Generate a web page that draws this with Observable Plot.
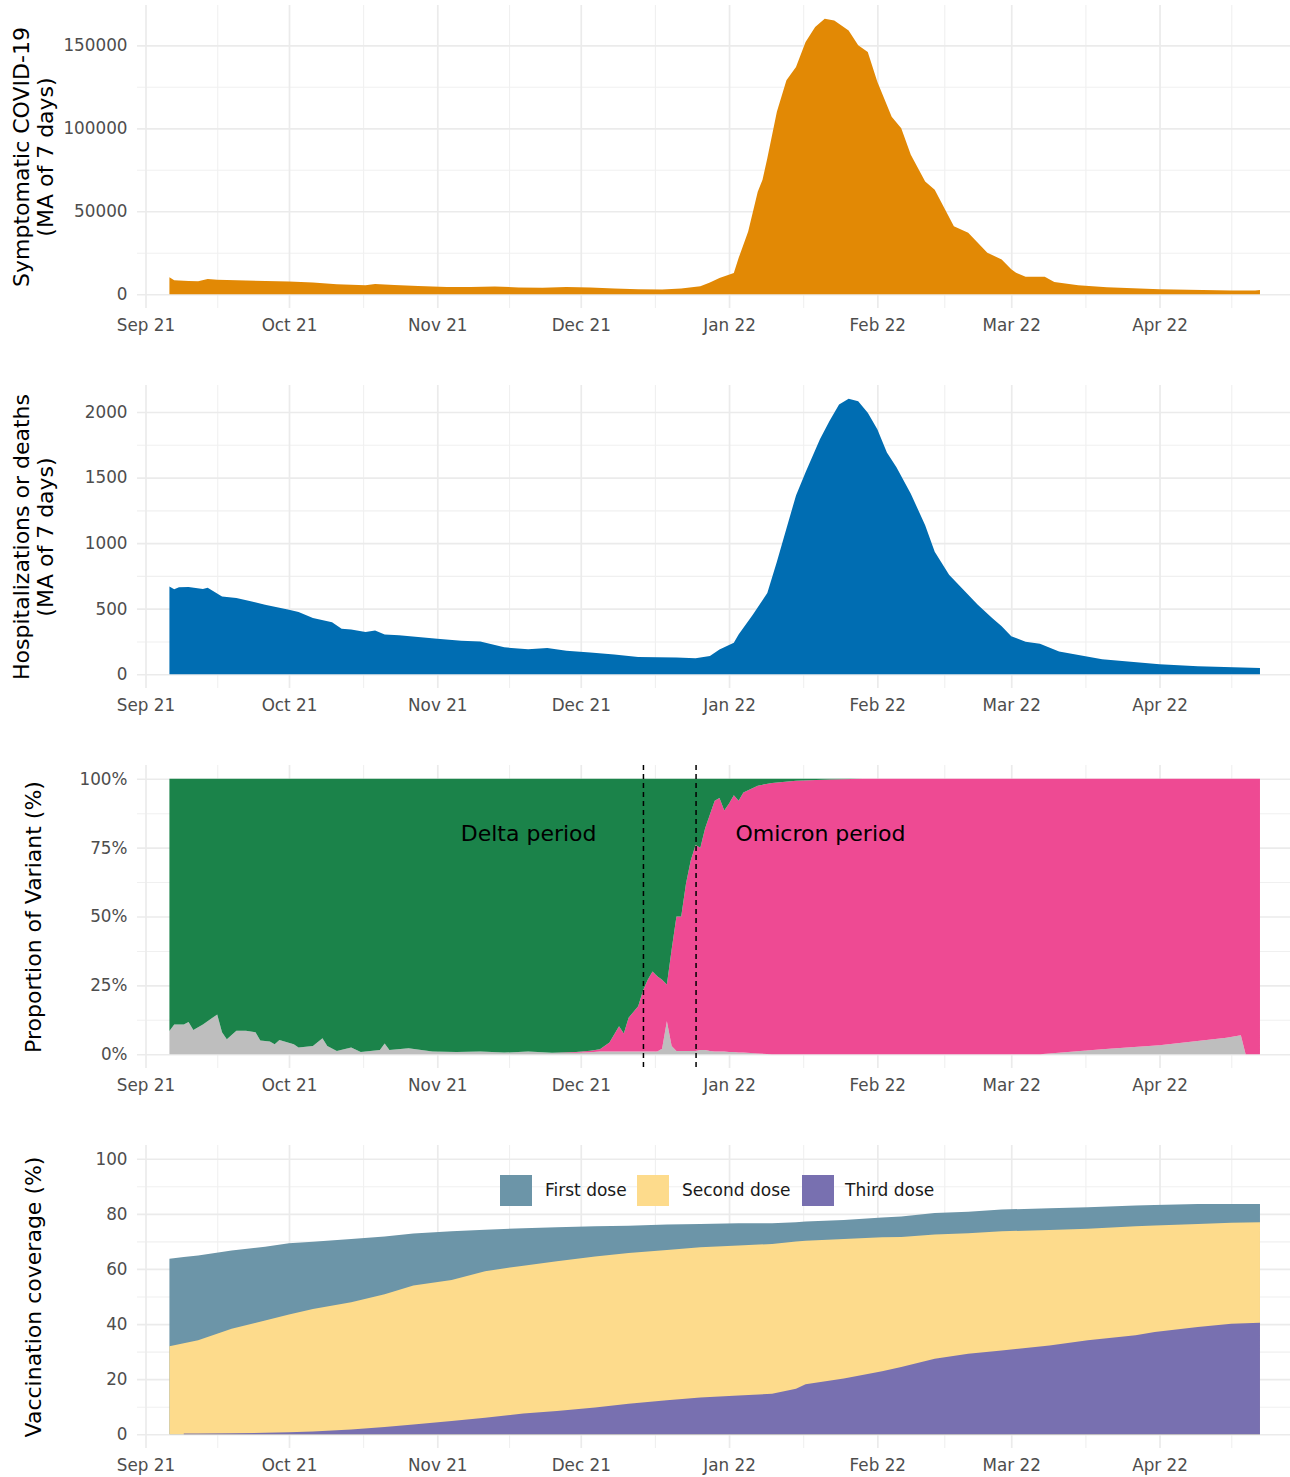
<!DOCTYPE html>
<html><head><meta charset="utf-8">
<script src="https://cdn.jsdelivr.net/npm/d3@7"></script>
<script src="https://cdn.jsdelivr.net/npm/@observablehq/plot@0.6"></script>
<style>
html,body{margin:0;padding:0;background:#fff;overflow:hidden}
#root{position:relative;width:1290px;height:1477px;font-family:"DejaVu Sans",sans-serif}
.panel{position:absolute;left:0}
.legend-sw{position:absolute;width:32px;height:31px}
.legend-tx{position:absolute;font-size:17px;line-height:31px;color:#1a1a1a;white-space:nowrap}
</style></head><body><div id="root"></div>
<script>
// ---------- DATA ----------
const monthTicks = ["2021-09-01","2021-10-01","2021-11-01","2021-12-01","2022-01-01","2022-02-01","2022-03-01","2022-04-01","2022-05-01"];

const casesDates = ["2021-09-06","2021-09-07","2021-09-10","2021-09-12","2021-09-14","2021-09-16","2021-09-22","2021-10-01","2021-10-06","2021-10-11","2021-10-17","2021-10-19","2021-10-23","2021-10-28","2021-11-03","2021-11-08","2021-11-13","2021-11-18","2021-11-23","2021-11-28","2021-12-03","2021-12-08","2021-12-13","2021-12-18","2021-12-22","2021-12-26","2021-12-28","2021-12-30","2022-01-02","2022-01-03","2022-01-05","2022-01-07","2022-01-08","2022-01-09","2022-01-11","2022-01-13","2022-01-15","2022-01-17","2022-01-19","2022-01-21","2022-01-23","2022-01-26","2022-01-28","2022-01-30","2022-02-01","2022-02-04","2022-02-06","2022-02-08","2022-02-11","2022-02-13","2022-02-15","2022-02-17","2022-02-20","2022-02-24","2022-02-27","2022-03-01","2022-03-02","2022-03-04","2022-03-08","2022-03-10","2022-03-15","2022-03-21","2022-04-01","2022-04-16","2022-04-21","2022-04-22"];
const casesValues = [10200,8400,8000,7800,9200,8800,8300,7600,7000,6000,5400,6200,5600,5000,4400,4300,4700,4100,3900,4300,4000,3500,3000,2900,3400,4800,7000,9800,12800,21800,37800,61800,69000,82000,110000,129000,137000,152000,161000,166000,165000,159000,150000,146000,128000,107000,100000,84000,68000,63000,52000,41000,37000,25000,21000,15000,13000,10600,10600,7400,5400,4200,3000,2200,2200,2600];

const hospDates = ["2021-09-06","2021-09-07","2021-09-08","2021-09-10","2021-09-13","2021-09-14","2021-09-17","2021-09-20","2021-09-23","2021-09-26","2021-10-01","2021-10-03","2021-10-06","2021-10-10","2021-10-12","2021-10-14","2021-10-17","2021-10-19","2021-10-21","2021-10-24","2021-11-01","2021-11-06","2021-11-10","2021-11-15","2021-11-20","2021-11-24","2021-11-28","2021-12-03","2021-12-08","2021-12-13","2021-12-21","2021-12-25","2021-12-28","2021-12-30","2022-01-02","2022-01-03","2022-01-06","2022-01-09","2022-01-11","2022-01-13","2022-01-15","2022-01-17","2022-01-20","2022-01-22","2022-01-24","2022-01-26","2022-01-28","2022-01-30","2022-02-01","2022-02-03","2022-02-05","2022-02-08","2022-02-11","2022-02-13","2022-02-16","2022-02-19","2022-02-22","2022-02-25","2022-02-27","2022-03-01","2022-03-04","2022-03-07","2022-03-11","2022-03-20","2022-04-01","2022-04-09","2022-04-22"];
const hospValues = [669,649,664,666,651,660,593,581,556,530,492,475,429,396,346,341,323,333,303,298,270,255,250,205,190,200,180,165,150,131,128,121,139,189,240,303,455,619,858,1111,1364,1540,1793,1932,2058,2101,2083,1995,1869,1692,1578,1377,1136,934,758,644,530,429,366,290,248,233,174,114,76,61,48];

const variantNames = ["Other","Omicron","Delta"];
const variantDates = ["2021-09-06","2021-09-07","2021-09-09","2021-09-10","2021-09-11","2021-09-13","2021-09-15","2021-09-16","2021-09-17","2021-09-18","2021-09-19","2021-09-20","2021-09-22","2021-09-24","2021-09-25","2021-09-27","2021-09-28","2021-09-29","2021-10-02","2021-10-03","2021-10-06","2021-10-08","2021-10-09","2021-10-11","2021-10-14","2021-10-16","2021-10-20","2021-10-21","2021-10-22","2021-10-26","2021-10-31","2021-11-05","2021-11-10","2021-11-15","2021-11-20","2021-11-25","2021-11-30","2021-12-03","2021-12-05","2021-12-07","2021-12-09","2021-12-10","2021-12-11","2021-12-13","2021-12-14","2021-12-15","2021-12-16","2021-12-17","2021-12-18","2021-12-19","2021-12-20","2021-12-21","2021-12-22","2021-12-23","2021-12-24","2021-12-25","2021-12-26","2021-12-27","2021-12-28","2021-12-29","2021-12-30","2021-12-31","2022-01-01","2022-01-02","2022-01-03","2022-01-04","2022-01-07","2022-01-10","2022-01-15","2022-01-22","2022-01-29","2022-03-07","2022-03-20","2022-04-01","2022-04-15","2022-04-18","2022-04-19","2022-04-22"];
const otherPct = [8.4,10.8,10.8,11.7,8.8,10.8,13.2,14.4,8.0,5.4,7.0,8.5,8.5,8.0,5.0,4.6,3.6,5.2,3.6,2.4,3.0,5.8,3.0,1.2,2.4,0.8,1.5,3.9,1.5,2.2,1.0,0.8,1.0,0.6,1.0,0.5,0.5,0.7,1.0,1.0,1.0,1.0,1.0,1.0,1.0,1.0,1.0,1.0,2.0,12.0,3.0,1.2,1.2,1.2,1.2,1.2,1.5,1.5,1.2,1.0,1.0,1.0,0.8,0.8,0.6,0.6,0.3,0,0,0,0,0,1.8,3.3,6.0,6.9,0,0];
const omicronPct = [0,0,0,0,0,0,0,0,0,0,0,0,0,0,0,0,0,0,0,0,0,0,0,0,0,0,0,0,0,0,0,0,0,0,0,0,0.3,0.6,0.8,3.3,9.2,6.5,12.2,16.4,22.0,26.0,29.0,27.3,25.0,13.3,35.0,48.8,48.8,60.8,69.2,74.8,73.5,80.5,85.8,91.0,92.0,87.5,90.2,93.2,91.4,94.4,97.2,98.5,99.3,99.7,100,100,98.2,96.7,94.0,93.1,100,100];
const deltaPct = [91.6,89.2,89.2,88.3,91.2,89.2,86.8,85.6,92.0,94.6,93.0,91.5,91.5,92.0,95.0,95.4,96.4,94.8,96.4,97.6,97.0,94.2,97.0,98.8,97.6,99.2,98.5,96.1,98.5,97.8,99.0,99.2,99.0,99.4,99.0,99.5,99.2,98.7,98.2,95.7,89.8,92.5,86.8,82.6,77.0,73.0,70.0,71.7,73.0,74.7,62.0,50.0,50.0,38.0,29.6,24.0,25.0,18.0,13.0,8.0,7.0,11.5,9.0,6.0,8.0,5.0,2.5,1.5,0.7,0.3,0,0,0,0,0,0,0,0];

const periodBounds = ["2021-12-14","2021-12-25"];
const periodLabels = ["Delta period","Omicron period"];
const periodLabelDates = ["2021-11-20","2022-01-20"];
const periodLabelY = [80,80];

const doseNames = ["First dose","Second dose","Third dose"];
const vaccDates = ["2021-09-06","2021-09-09","2021-09-12","2021-09-19","2021-09-26","2021-10-01","2021-10-06","2021-10-14","2021-10-21","2021-10-27","2021-11-04","2021-11-11","2021-11-19","2021-11-26","2021-12-04","2021-12-11","2021-12-19","2021-12-26","2022-01-03","2022-01-10","2022-01-15","2022-01-17","2022-01-25","2022-02-02","2022-02-06","2022-02-13","2022-02-20","2022-02-27","2022-03-09","2022-03-17","2022-03-27","2022-03-31","2022-04-09","2022-04-16","2022-04-22"];
const firstDose  = [63.7,64.3,64.9,66.7,68.1,69.3,69.9,70.9,71.8,72.9,73.7,74.2,74.8,75.1,75.5,75.7,76.1,76.3,76.6,76.6,77.0,77.2,77.8,78.7,79.0,80.3,80.8,81.6,82.0,82.4,83.0,83.2,83.6,83.6,83.6];
const secondDose = [31.9,33.0,34.1,38.3,41.3,43.5,45.5,47.9,50.8,54.0,56.0,59.2,61.2,62.8,64.5,65.8,66.9,67.9,68.5,69.1,70.0,70.2,70.9,71.5,71.6,72.5,73.0,73.7,74.1,74.6,75.5,75.8,76.3,76.8,77.0];
const thirdDose  = [null,0.3,0.3,0.4,0.5,0.7,1.0,1.7,2.6,3.5,4.8,6.0,7.5,8.4,9.7,11.1,12.3,13.3,14.1,14.7,16.5,18.1,20.2,22.9,24.4,27.4,29.2,30.4,32.2,34.1,35.9,37.1,38.9,40.1,40.5];

const colors = {cases:"#E28905", hosp:"#006DB2", Other:"#BEBEBE", Omicron:"#EE4A93", Delta:"#1B834A",
  "First dose":"#6C95A8", "Second dose":"#FDDB8C", "Third dose":"#7870B0"};

// ---------- TABLES ----------
const P = s => new Date(s);
const cases = casesDates.map((d,i)=>({date:P(d), value:casesValues[i]}));
const hosp = hospDates.map((d,i)=>({date:P(d), value:hospValues[i]}));
const variants = [];
variantNames.forEach(name => {
  const arr = name==="Other"?otherPct:name==="Omicron"?omicronPct:deltaPct;
  variantDates.forEach((d,i)=>variants.push({date:P(d), variant:name, value:arr[i]}));
});
const vacc = [];
[firstDose, secondDose, thirdDose].forEach((arr,k)=>{
  vaccDates.forEach((d,i)=>{ if (arr[i]!=null) vacc.push({date:P(d), dose:doseNames[k], value:arr[i]}); });
});
const periods = periodLabels.map((l,i)=>({label:l, date:P(periodLabelDates[i]), value:periodLabelY[i]}));

// ---------- LAYOUT ----------
const xDomain = [new Date("2021-08-30T05:20:00Z"), new Date("2022-04-28T06:40:00Z")];
const major = monthTicks.map(P).filter(d => d <= xDomain[1]);
const allM = monthTicks.map(P);
const minor = d3.pairs(allM).map(([a,b]) => new Date((+a + +b)/2)).filter(d => d>=xDomain[0] && d<=xDomain[1]);

function panel({top, height, marginBottom, yDomain, yTicks, yMinor, yFormat, title, marks, color}) {
  const svg = Plot.plot({
    width: 1290, height, marginTop: 5, marginBottom, marginLeft: 137, marginRight: 0,
    x: {type: "utc", domain: xDomain},
    y: {domain: yDomain},
    color,
    style: {fontFamily: "DejaVu Sans", color: "#4D4D4D", background: "white", overflow: "visible"},
    marks: [
      Plot.ruleX(minor, {stroke: "#F0F0F0", strokeWidth: 1.1}),
      Plot.ruleY(yMinor, {stroke: "#F0F0F0", strokeWidth: 1.1}),
      Plot.ruleX(major, {stroke: "#EBEBEB", strokeWidth: 1.7}),
      Plot.ruleY(yTicks, {stroke: "#EBEBEB", strokeWidth: 1.7}),
      ...marks,
      Plot.axisX(major, {tickSize: 0, tickPadding: 11, tickFormat: d3.utcFormat("%b %y"), fontSize: 16.8, label: null}),
      Plot.axisY(yTicks, {tickSize: 0, tickPadding: 10, tickFormat: yFormat, fontSize: 16.8, label: null}),
      Plot.text([title], {text: d => d, frameAnchor: "left", dx: -104, rotate: -90, fontSize: 22, fill: "black",
        lineHeight: 1.1, textAnchor: "middle", lineAnchor: "middle"})
    ]
  });
  svg.classList.add("panel");
  svg.style.top = top + "px";
  document.getElementById("root").appendChild(svg);
}

panel({top: 0, height: 380, marginBottom: 72, yDomain: [-8300, 174300],
  yTicks: [0,50000,100000,150000], yMinor: [25000,75000,125000], yFormat: d => String(d),
  title: "Symptomatic COVID-19\n(MA of 7 days)",
  marks: [Plot.areaY(cases, {x: "date", y: "value", fill: colors.cases})]});

panel({top: 380, height: 380, marginBottom: 72, yDomain: [-105, 2206],
  yTicks: [0,500,1000,1500,2000], yMinor: [250,750,1250,1750], yFormat: d => String(d),
  title: "Hospitalizations or deaths\n(MA of 7 days)",
  marks: [Plot.areaY(hosp, {x: "date", y: "value", fill: colors.hosp})]});

panel({top: 760, height: 380, marginBottom: 72, yDomain: [-5, 105],
  yTicks: [0,25,50,75,100], yMinor: [12.5,37.5,62.5,87.5], yFormat: d => d + "%",
  title: "Proportion of Variant (%)",
  color: {domain: variantNames, range: variantNames.map(n => colors[n])},
  marks: [
    Plot.areaY(variants, {x: "date", y: "value", fill: "variant", order: variantNames}),
    Plot.ruleX(periodBounds.map(P), {stroke: "black", strokeWidth: 1.5, strokeDasharray: "5,4"}),
    Plot.text(periods, {x: "date", y: "value", text: "label", fontSize: 22, fill: "black"})
  ]});

panel({top: 1140, height: 337, marginBottom: 29, yDomain: [-5, 105],
  yTicks: [0,20,40,60,80,100], yMinor: [10,30,50,70,90], yFormat: d => String(d),
  title: "Vaccination coverage (%)",
  marks: doseNames.map(n => Plot.areaY(vacc.filter(d => d.dose === n), {x: "date", y1: 0, y2: "value", fill: colors[n]}))});

// legend (inside last panel, top centre)
const root = document.getElementById("root");
const legendSw = [500, 637, 802];
const legendTx = [545, 682, 845];
doseNames.forEach((n,i) => {
  const sw = document.createElement("div");
  sw.className = "legend-sw"; sw.style.left = legendSw[i] + "px"; sw.style.top = "1175px"; sw.style.background = colors[n];
  const tx = document.createElement("div");
  tx.className = "legend-tx"; tx.style.left = legendTx[i] + "px"; tx.style.top = "1175px"; tx.textContent = n;
  root.appendChild(sw); root.appendChild(tx);
});
</script></body></html>
